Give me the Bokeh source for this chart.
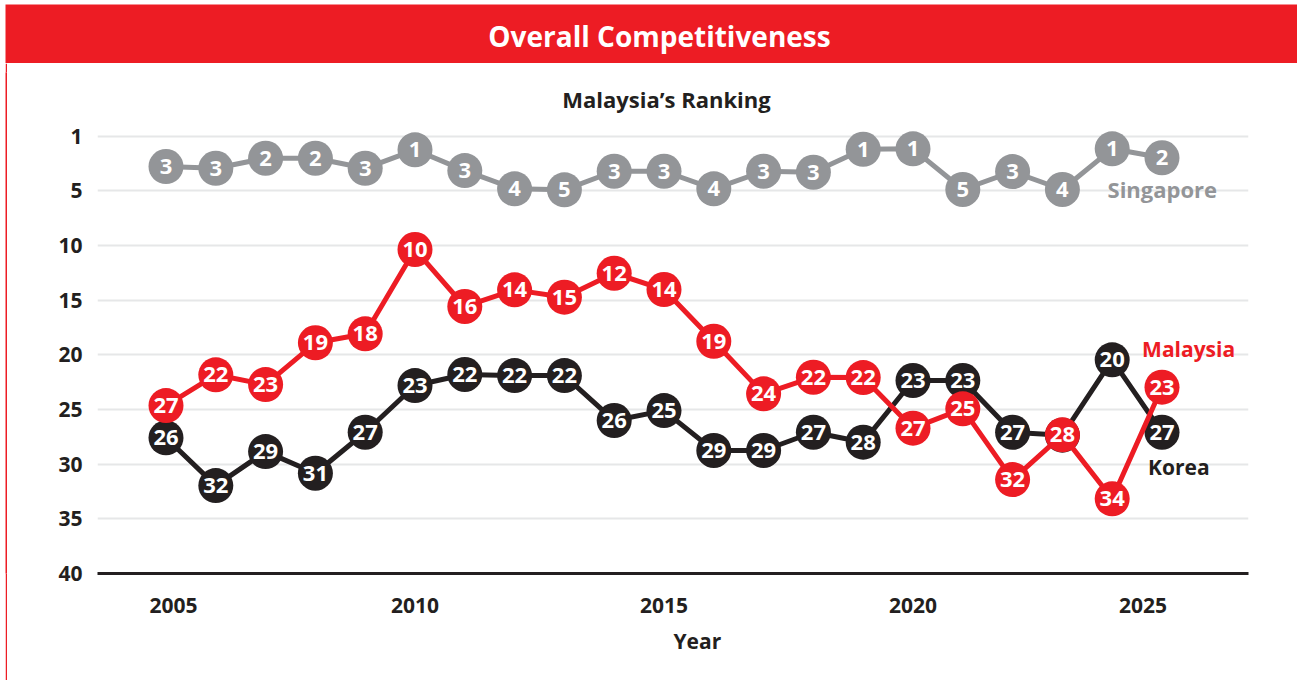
from bokeh.plotting import figure
from bokeh.models import Range1d, FixedTicker, Label, ColumnDataSource, Title, Spacer
from bokeh.layouts import column, row
from bokeh.embed import file_html
from bokeh.resources import INLINE
from bokeh.core.properties import value

# ---------------- data ----------------
years = list(range(2005, 2026))

# ranks shown inside the markers
singapore_rank = [3, 3, 2, 2, 3, 1, 3, 4, 5, 3, 3, 4, 3, 3, 1, 1, 5, 3, 4, 1, 2]
malaysia_rank = [27, 22, 23, 19, 18, 10, 16, 14, 15, 12, 14, 19, 24, 22, 22, 27, 25, 32, 28, 34, 23]
korea_rank = [26, 32, 29, 31, 27, 23, 22, 22, 22, 26, 25, 29, 29, 27, 28, 23, 23, 27, 28, 20, 27]

# vertical position of each marker
singapore_pos = [2.78, 2.94, 2.02, 2.02, 2.94, 1.25, 3.15, 4.82, 4.91, 3.21, 3.21, 4.82, 3.21, 3.30,
                 1.20, 1.16, 4.88, 3.24, 4.88, 1.16, 1.98]
malaysia_pos = [24.64, 21.83, 22.72, 18.90, 18.08, 10.37, 15.58, 14.06, 14.73, 12.54, 14.03, 18.76,
                23.57, 22.05, 22.08, 26.71, 24.94, 31.41, 27.32, 33.17, 22.96]
korea_pos = [27.59, 31.96, 28.85, 30.83, 27.08, 22.81, 21.80, 21.90, 21.90, 26.01, 25.10, 28.75,
             28.75, 27.08, 27.99, 22.35, 22.35, 27.08, 27.35, 20.46, 27.08]

y_ticks = [0, 5, 10, 15, 20, 25, 30, 35, 40]
y_tick_labels = ["1", "5", "10", "15", "20", "25", "30", "35", "40"]
x_tick_labels = ["2005", "2010", "2015", "2020", "2025"]

# ---------------- style ----------------
RED = "#ED1C24"
GREY = "#939598"
BLACK = "#231F20"
GRID = "#E6E7E8"
FONT = "Open Sans"

# tick positions for the year labels (as placed in the original)
x_tick_pos = [2005.15, 2010.0, 2015.0, 2020.0, 2024.62]

# ---------------- title bar ----------------
tb = figure(width=1297, height=63, x_range=Range1d(5, 1297), y_range=Range1d(63, 4),
            output_backend="svg", toolbar_location=None,
            x_axis_location=None, y_axis_location=None,
            min_border_left=5, min_border_top=4, min_border_right=0, min_border_bottom=0,
            background_fill_color=RED, border_fill_color="white", outline_line_color=None)
tb.grid.visible = False
tb.add_layout(Label(x=659, y=35, text="Overall Competitiveness", text_align="center",
                    text_baseline="middle", text_color="white", text_font=FONT,
                    text_font_style="bold", text_font_size="28px"))

# ---------------- left red border ----------------
gap = Spacer(width=5, height=617)
edge = figure(width=2, height=617, output_backend="svg", toolbar_location=None,
              x_axis_location=None, y_axis_location=None, min_border=0,
              background_fill_color=RED, border_fill_color=RED, outline_line_color=None)
edge.grid.visible = False

# ---------------- main chart ----------------
p = figure(width=1290, height=617,
           x_range=Range1d(2003.6245, 2026.737), y_range=Range1d(40, -5.82),
           output_backend="svg", toolbar_location=None,
           min_border_left=90, min_border_right=49, min_border_top=9, min_border_bottom=107,
           outline_line_color=None, background_fill_color="white", border_fill_color="white")

p.xgrid.visible = False
p.ygrid.ticker = FixedTicker(ticks=y_ticks[:-1])
p.ygrid.grid_line_color = GRID
p.ygrid.grid_line_width = 2

p.xaxis.ticker = FixedTicker(ticks=x_tick_pos)
p.xaxis.major_label_overrides = dict(zip(x_tick_pos, x_tick_labels))
p.xaxis.axis_line_color = BLACK
p.xaxis.axis_line_width = 3
p.xaxis.major_tick_line_color = None
p.xaxis.minor_tick_line_color = None
p.xaxis.major_tick_out = 0
p.xaxis.major_tick_in = 0
p.xaxis.major_label_standoff = 24
p.xaxis.major_label_text_font = FONT
p.xaxis.major_label_text_font_style = "bold"
p.xaxis.major_label_text_font_size = "21px"
p.xaxis.major_label_text_color = BLACK

p.yaxis.ticker = FixedTicker(ticks=y_ticks)
p.yaxis.major_label_overrides = dict(zip(y_ticks, y_tick_labels))
p.yaxis.axis_line_color = None
p.yaxis.major_tick_line_color = None
p.yaxis.minor_tick_line_color = None
p.yaxis.major_tick_out = 0
p.yaxis.major_tick_in = 0
p.yaxis.major_label_standoff = 15
p.yaxis.major_label_text_font = FONT
p.yaxis.major_label_text_font_style = "bold"
p.yaxis.major_label_text_font_size = "21px"
p.yaxis.major_label_text_color = BLACK

series = [
    ("Korea", korea_pos, korea_rank, BLACK),
    ("Malaysia", malaysia_pos, malaysia_rank, RED),
    ("Singapore", singapore_pos, singapore_rank, GREY),
]
for name, pos, rank, color in series:
    src = ColumnDataSource(dict(year=years, pos=pos, label=[str(r) for r in rank]))
    p.line("year", "pos", source=src, line_color=color, line_width=5)
    p.scatter("year", "pos", source=src, size=35, fill_color=color, line_color=None)
    p.text("year", "pos", text="label", source=src, text_color="white",
           text_font=value(FONT), text_font_style="bold", text_font_size="22px",
           text_align="center", text_baseline="middle")

# series names
p.add_layout(Label(x=2023.906, y=4.80, text="Singapore", text_color=GREY, text_font=FONT,
                   text_font_style="bold", text_font_size="22px", text_baseline="alphabetic"))
p.add_layout(Label(x=2024.60, y=19.46, text="Malaysia", text_color=RED, text_font=FONT,
                   text_font_style="bold", text_font_size="21px", text_baseline="alphabetic"))
p.add_layout(Label(x=2024.72, y=30.28, text="Korea", text_color=BLACK, text_font=FONT,
                   text_font_style="bold", text_font_size="21px", text_baseline="alphabetic"))

# subtitle
p.add_layout(Label(x=2015.05, y=-3.44, text="Malaysia\u2019s Ranking", text_color=BLACK,
                   text_font=FONT, text_font_style="bold", text_font_size="22px",
                   text_align="center", text_baseline="middle"))

# x-axis title
p.add_layout(Title(text="Year", align="left", offset=576, standoff=18,
                   text_color=BLACK, text_font=FONT, text_font_style="bold",
                   text_font_size="21px"), "below")

layout = column(tb, row(gap, edge, p))
open("out.html", "w").write(file_html(layout, INLINE))
